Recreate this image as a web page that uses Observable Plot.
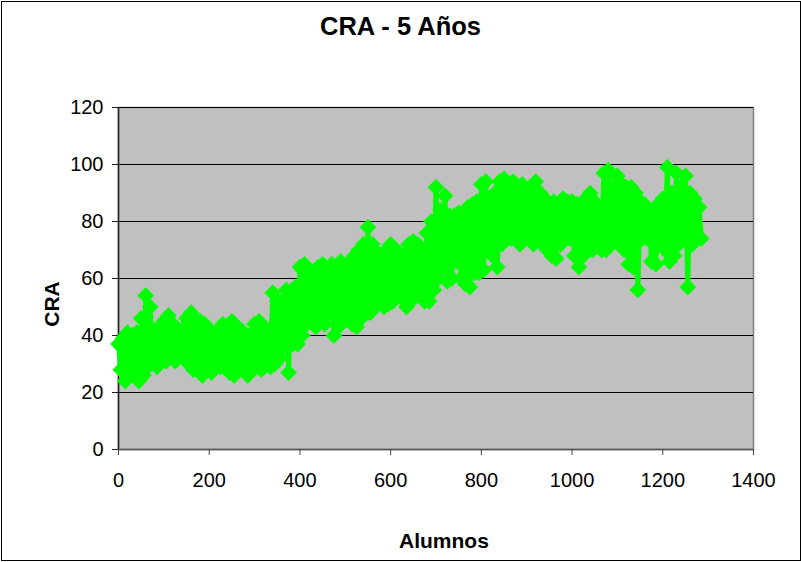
<!DOCTYPE html>
<html>
<head>
<meta charset="utf-8">
<script src="https://cdn.jsdelivr.net/npm/d3@7"></script>
<script src="https://cdn.jsdelivr.net/npm/@observablehq/plot@0.6"></script>
<style>
html,body{margin:0;padding:0;background:#fff}
#wrap{position:relative;width:801px;height:562px;overflow:hidden;font-family:"Liberation Sans",Arial,sans-serif;color:#000}
#wrap svg{position:absolute;left:0;top:0;background:transparent}
.t{position:absolute;font-weight:bold;white-space:nowrap;line-height:1}
#title{left:0;width:801px;top:14px;text-align:center;font-size:25.5px}
#xl{left:399px;top:530px;font-size:21px}
#yl{left:51px;top:303.5px;font-size:21px;transform:translate(-50%,-50%) rotate(-90deg)}
#border{position:absolute;left:1px;top:1px;width:798px;height:558px;border:1px solid #000;pointer-events:none}
</style>
</head>
<body>
<div id="wrap"><div id="chart"></div><div class="t" id="title"></div><div class="t" id="xl"></div><div class="t" id="yl"></div><div id="border"></div></div>
<script>
const chartTitle = "CRA - 5 Años";
const xLabel = "Alumnos";
const yLabel = "CRA";
const xTicks = [0,200,400,600,800,1000,1200,1400];
const yTicks = [0,20,40,60,80,100,120];
const alumnos = [0,10,20,30,40,50,60,70,80,90,100,110,120,130,140,150,160,170,180,190,200,210,220,230,240,250,260,270,280,290,300,310,320,330,340,350,360,370,380,390,400,410,420,430,440,450,460,470,480,490,500,510,520,530,540,550,560,570,580,590,600,610,620,630,640,650,660,670,680,690,700,710,720,730,740,750,760,770,780,790,800,810,820,830,840,850,860,870,880,890,900,910,920,930,940,950,960,970,980,990,1000,1010,1020,1030,1040,1050,1060,1070,1080,1090,1100,1110,1120,1130,1140,1150,1160,1170,1180,1190,1200,1210,1220,1230,1240,1250,1260,1270,1280];
const craAlto = [37,39,41,40,41,46,54,50,42,42,45,47,44,40,42,46,48,45,45,44,42,40,42,44,43,45,43,42,40,40,44,45,43,42,55,52,52,56,55,57,64,65,62,62,64,65,62,65,62,66,62,66,68,70,72,78,72,69,68,70,72,70,69,68,72,73,72,70,76,80,92,84,89,82,82,83,80,85,86,87,93,94,88,90,94,95,92,94,92,93,91,92,94,90,88,85,87,85,88,87,87,86,85,88,90,87,85,97,98,92,96,93,92,92,90,87,86,84,82,86,88,99,90,97,92,96,90,88,85];
const craBajo = [28,24,27,27,24,26,29,31,29,32,31,34,31,33,32,30,28,29,26,28,27,30,29,30,27,26,28,29,26,28,29,28,30,29,30,32,36,27,37,37,40,44,46,43,46,44,48,40,43,45,47,44,43,46,49,48,50,52,50,51,52,54,53,50,52,55,54,52,52,56,60,64,59,60,66,60,58,57,62,62,63,70,68,64,72,76,74,74,72,75,74,72,76,72,70,68,67,72,74,74,68,64,68,70,70,72,70,70,72,73,72,70,65,64,56,74,74,66,65,72,70,66,68,72,74,57,72,75,74];

document.getElementById("title").textContent = chartTitle;
document.getElementById("xl").textContent = xLabel;
document.getElementById("yl").textContent = yLabel;

// Excel's scatter runs in roster order, so the line jumps between the high and low readings.
const puntos = alumnos.flatMap((a, i) => [
  {x: a, y: craAlto[i]},
  {x: a + 5, y: craBajo[i]}
]);

const verde = "#00ff00";
const chart = Plot.plot({
  width: 801, height: 562,
  marginLeft: 118, marginRight: 48, marginTop: 107, marginBottom: 113,
  style: {fontFamily: '"Liberation Sans",Arial,sans-serif', color: "#000", background: "transparent"},
  x: {domain: [0,1400], label: null},
  y: {domain: [0,120], label: null},
  marks: [
    Plot.frame({fill: "#c0c0c0", stroke: "#808080", strokeWidth: 1.5}),
    Plot.gridY(yTicks, {stroke: "#000", strokeOpacity: 1, strokeWidth: 1}),
    Plot.ruleX([0], {stroke: "#222", strokeWidth: 1.5}),
    Plot.ruleY([0], {stroke: "#555", strokeWidth: 1.5}),
    Plot.axisX({ticks: xTicks, tickFormat: d => String(d), tickSize: 6, tickPadding: 17, fontSize: 20, stroke: "#444", label: null}),
    Plot.axisY({ticks: yTicks, tickFormat: d => String(d), tickSize: 6, tickPadding: 9, fontSize: 20, stroke: "#222", label: null}),
    Plot.line(puntos, {x: "x", y: "y", stroke: verde, strokeWidth: 5, curve: "linear", strokeLinejoin: "miter"}),
    Plot.dot(puntos, {x: "x", y: "y", symbol: "diamond2", r: 7.3, fill: verde, stroke: verde, strokeWidth: 0.5})
  ]
});
document.getElementById("chart").appendChild(chart);
</script>
</body>
</html>
